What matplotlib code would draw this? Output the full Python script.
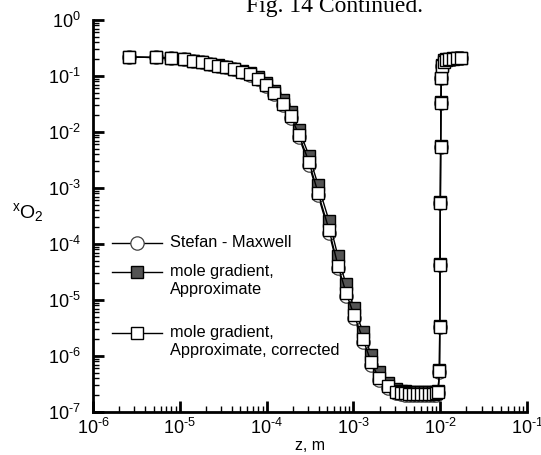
import matplotlib
matplotlib.use('Agg')
import numpy as np
import matplotlib.pyplot as plt
from matplotlib.lines import Line2D
from matplotlib.ticker import LogLocator, NullFormatter, FuncFormatter

plt.rcParams['font.family'] = ['Liberation Sans', 'DejaVu Sans']
plt.rcParams['mathtext.fontset'] = 'custom'
plt.rcParams['mathtext.rm'] = 'Liberation Sans'
plt.rcParams['mathtext.it'] = 'Liberation Sans:italic'

# z grid (m), shared by the three solutions
z = [2.6e-6, 5.3e-6, 7.9e-6, 1.12e-5, 1.42e-5, 1.80e-5, 2.23e-5, 2.75e-5, 3.40e-5, 4.21e-5,
     5.21e-5, 6.44e-5, 7.96e-5, 9.84e-5, 1.22e-4, 1.55e-4, 1.91e-4, 2.36e-4, 3.08e-4, 3.91e-4,
     5.24e-4, 6.65e-4, 8.22e-4, 1.02e-3, 1.29e-3, 1.60e-3, 1.97e-3, 2.51e-3, 3.10e-3,
     3.53e-3, 3.93e-3, 4.37e-3, 4.86e-3, 5.41e-3, 6.01e-3, 6.68e-3, 7.43e-3, 8.26e-3, 8.95e-3, 9.44e-3,
     9.80e-3, 9.88e-3, 9.96e-3, 1.004e-2, 1.012e-2, 1.02e-2, 1.03e-2,
     1.06e-2, 1.10e-2, 1.17e-2, 1.27e-2, 1.40e-2, 1.56e-2, 1.72e-2]

x_sm = [0.218, 0.214, 0.208, 0.200, 0.188, 0.175, 0.165, 0.152, 0.143, 0.131,
        0.117, 0.106, 0.088, 0.066, 0.047, 0.030, 0.0178, 0.0081, 0.0026, 7.5e-4,
        1.6e-4, 3.7e-5, 1.2e-5, 4.8e-6, 1.8e-6, 7.0e-7, 3.7e-7, 2.7e-7, 2.2e-7,
        2.1e-7, 2.05e-7, 2.0e-7, 2.0e-7, 2.0e-7, 2.0e-7, 2.0e-7, 2.0e-7, 2.0e-7, 2.05e-7, 2.2e-7,
        5.2e-7, 3.3e-6, 4.2e-5, 5.4e-4, 5.4e-3, 0.033, 0.092,
        0.15, 0.18, 0.195, 0.20, 0.205, 0.208, 0.21]

x_approx = [0.218, 0.214, 0.208, 0.200, 0.189, 0.177, 0.167, 0.155, 0.146, 0.135,
            0.122, 0.112, 0.095, 0.074, 0.055, 0.037, 0.023, 0.011, 0.0038, 1.15e-3,
            2.6e-4, 6.0e-5, 1.9e-5, 7.2e-6, 2.7e-6, 1.05e-6, 5.2e-7, 3.3e-7, 2.6e-7,
            2.4e-7, 2.35e-7, 2.3e-7, 2.3e-7, 2.3e-7, 2.3e-7, 2.3e-7, 2.3e-7, 2.3e-7, 2.3e-7, 2.4e-7,
            5.6e-7, 3.5e-6, 4.4e-5, 5.7e-4, 5.7e-3, 0.034, 0.094,
            0.16, 0.19, 0.20, 0.205, 0.208, 0.21, 0.212]

x_corr = [0.218, 0.214, 0.208, 0.200, 0.188, 0.175, 0.165, 0.152, 0.143, 0.131,
          0.118, 0.107, 0.090, 0.068, 0.049, 0.032, 0.019, 0.0088, 0.0029, 8.3e-4,
          1.8e-4, 4.1e-5, 1.35e-5, 5.3e-6, 2.0e-6, 7.8e-7, 4.0e-7, 2.9e-7, 2.3e-7,
          2.2e-7, 2.15e-7, 2.1e-7, 2.1e-7, 2.1e-7, 2.1e-7, 2.1e-7, 2.1e-7, 2.1e-7, 2.15e-7, 2.3e-7,
          5.3e-7, 3.3e-6, 4.2e-5, 5.4e-4, 5.4e-3, 0.033, 0.092,
          0.15, 0.18, 0.195, 0.20, 0.205, 0.208, 0.21]

labels = ['Stefan - Maxwell', 'mole gradient,\nApproximate', 'mole gradient,\nApproximate, corrected']

W, H = 541, 455
fig = plt.figure(figsize=(W / 100, H / 100), dpi=100)
ax = fig.add_axes([93 / W, 1 - 412 / H, 434 / W, 392 / H])

sty_sm = dict(color='black', lw=1.0, marker='o', ms=9.6, mfc='white', mec='0.25', mew=0.9)
sty_ap = dict(color='black', lw=1.0, marker='s', ms=8.2, mfc='0.33', mec='black', mew=1.0)
sty_co = dict(color='black', lw=1.0, marker='s', ms=8.2, mfc='white', mec='black', mew=1.0)

ax.plot(z, x_sm, **sty_sm)
ax.plot(z, x_approx, **sty_ap)
ax.plot(z, x_corr, **sty_co)

ax.set_xscale('log')
ax.set_yscale('log')
ax.set_xlim(1e-6, 1e-1)
ax.set_ylim(1e-7, 1e0)


def pow10(v, pos):
    e = int(round(np.log10(v)))
    if e < 0:
        return r'$10^{\text{-}%d}$' % (-e)
    return r'$10^{%d}$' % e


for axis in (ax.xaxis, ax.yaxis):
    axis.set_major_locator(LogLocator(base=10, numticks=10))
    axis.set_minor_locator(LogLocator(base=10, subs=range(2, 10), numticks=20))
    axis.set_major_formatter(FuncFormatter(pow10))
    axis.set_minor_formatter(NullFormatter())

for s in ['top', 'right']:
    ax.spines[s].set_visible(False)
for s in ['left', 'bottom']:
    ax.spines[s].set_linewidth(2.0)
ax.tick_params(which='major', direction='in', length=8, width=2, labelsize=13)
ax.tick_params(axis='x', which='major', pad=4)
ax.tick_params(axis='y', which='major', pad=9)
ax.tick_params(which='minor', direction='in', length=4, width=1)

fig.text(310 / W, 1 - 445 / H, 'z, m', fontsize=11.5, ha='center', va='center')
fig.text(12 / W, 1 - 212 / H, r'$^{\mathregular{x}}\mathregular{O_2}$', fontsize=14,
         ha='left', va='center')

# legend drawn by hand so the markers sit on the first text line
def fx(px):
    return px / W


def fy(py):
    return 1 - py / H


rows = [(243, sty_sm), (272, sty_ap), (333, sty_co)]
for (py, sty), lab in zip(rows, labels):
    fig.add_artist(Line2D([fx(112), fx(162)], [fy(py), fy(py)], color='black', lw=1.0))
    fig.add_artist(Line2D([fx(137)], [fy(py)], linestyle='none',
                          **{k: v for k, v in sty.items() if k not in ('color', 'lw')}))
    fig.text(fx(170), fy(py - 8), lab, fontsize=11.8, va='top', ha='left', linespacing=1.25)

fig.text(335 / W, 1 - 12 / H, 'Fig. 14 Continued.', family='Liberation Serif', fontsize=17,
         ha='center', va='baseline')

fig.savefig('out.png', dpi=100)
